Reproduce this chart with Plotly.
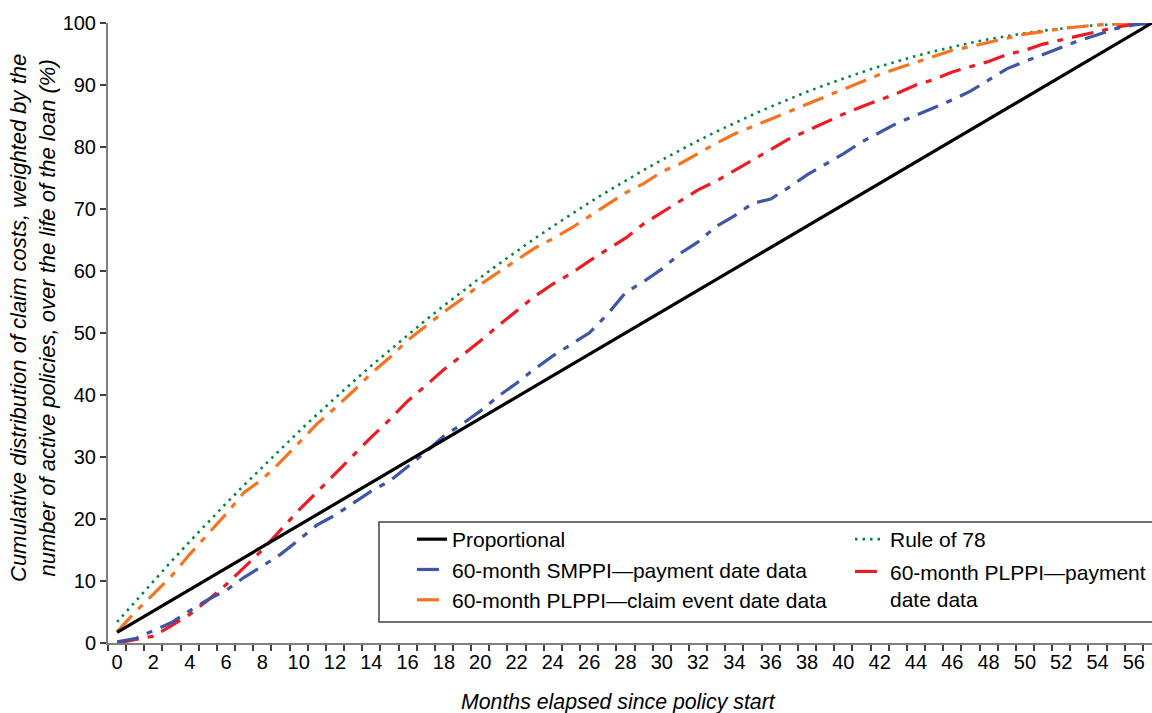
import plotly.graph_objects as go

months = list(range(58))

proportional = [1.72, 3.45, 5.17, 6.90, 8.62, 10.34, 12.07, 13.79, 15.52, 17.24,
                18.97, 20.69, 22.41, 24.14, 25.86, 27.59, 29.31, 31.03, 32.76, 34.48,
                36.21, 37.93, 39.66, 41.38, 43.10, 44.83, 46.55, 48.28, 50.00, 51.72,
                53.45, 55.17, 56.90, 58.62, 60.34, 62.07, 63.79, 65.52, 67.24, 68.97,
                70.69, 72.41, 74.14, 75.86, 77.59, 79.31, 81.03, 82.76, 84.48, 86.21,
                87.93, 89.66, 91.38, 93.10, 94.83, 96.55, 98.28, 100.0]

rule78 = [3.39, 6.72, 9.99, 13.21, 16.36, 19.46, 22.50, 25.48, 28.40, 31.27,
          34.07, 36.82, 39.51, 42.14, 44.71, 47.22, 49.68, 52.08, 54.41, 56.69,
          58.91, 61.08, 63.18, 65.23, 67.21, 69.14, 71.01, 72.82, 74.58, 76.27,
          77.91, 79.49, 81.01, 82.47, 83.87, 85.21, 86.50, 87.73, 88.90, 90.01,
          91.06, 92.05, 92.99, 93.86, 94.68, 95.44, 96.14, 96.79, 97.37, 97.90,
          98.36, 98.77, 99.12, 99.42, 99.65, 99.82, 99.94, 100.0]

smppi_payment = [0.2, 0.7, 2.0, 3.3, 5.2, 7.0, 8.5, 10.6, 12.4, 14.3,
                 16.6, 19.0, 20.6, 22.6, 24.5, 26.1, 28.4, 30.8, 33.4, 35.3,
                 37.4, 39.8, 41.9, 44.2, 46.3, 48.2, 50.0, 53.0, 56.5, 58.3,
                 60.3, 62.8, 64.7, 67.2, 68.9, 70.9, 71.6, 73.5, 75.5, 77.2,
                 78.9, 80.8, 82.3, 83.9, 85.1, 86.3, 87.6, 89.0, 90.8, 92.6,
                 93.8, 94.9, 96.1, 97.2, 98.1, 99.1, 99.7, 100.0]

plppi_claim = [1.8, 5.0, 7.9, 10.8, 14.3, 17.5, 20.8, 24.3, 26.4, 29.2,
               32.2, 35.3, 37.9, 40.6, 43.5, 46.0, 48.8, 51.1, 53.4, 55.5,
               57.8, 59.8, 61.7, 63.7, 65.2, 66.9, 68.8, 70.7, 72.6, 74.1,
               76.0, 77.3, 79.0, 80.6, 82.1, 83.3, 84.6, 85.8, 87.0, 88.2,
               89.4, 90.6, 91.7, 92.7, 93.7, 94.7, 95.6, 96.2, 96.9, 97.6,
               98.2, 98.6, 99.1, 99.4, 99.7, 99.85, 99.95, 100.0]

plppi_payment = [0.0, 0.5, 1.1, 2.8, 4.6, 6.9, 9.4, 12.2, 15.0, 18.2,
                 21.4, 24.3, 27.3, 30.3, 33.2, 36.0, 39.0, 41.5, 44.1, 46.4,
                 48.7, 51.2, 53.6, 55.9, 57.9, 59.6, 61.6, 63.5, 65.3, 67.6,
                 69.4, 71.2, 73.1, 74.5, 76.2, 77.8, 79.5, 81.3, 82.6, 84.0,
                 85.3, 86.5, 87.6, 88.7, 90.0, 90.9, 92.1, 92.9, 93.8, 94.9,
                 95.6, 96.6, 97.3, 98.0, 98.6, 99.3, 99.8, 100.0]

x_cat = [str(m) for m in months]
tick_text = [str(m) if m % 2 == 0 else "" for m in months]

FONT = "Liberation Sans, Arial, sans-serif"
DASH = "22px,9px,6px,9px"

fig = go.Figure()

fig.add_trace(go.Scatter(x=x_cat, y=rule78, mode="lines", name="Rule of 78",
                         line=dict(color="#00843D", width=2.6, dash="2.5px,5px"),
                         legend="legend2", legendgroup="g4"))
fig.add_trace(go.Scatter(x=x_cat, y=plppi_claim, mode="lines",
                         name="60-month PLPPI\u2014claim event date data",
                         line=dict(color="#F47421", width=3.2, dash=DASH),
                         legend="legend", legendgroup="g3"))
fig.add_trace(go.Scatter(x=x_cat, y=plppi_payment, mode="lines",
                         name="60-month PLPPI\u2014payment<br>date data",
                         line=dict(color="#EC1C24", width=3.2, dash=DASH),
                         legend="legend2", legendgroup="g5"))
fig.add_trace(go.Scatter(x=x_cat, y=smppi_payment, mode="lines",
                         name="60-month SMPPI\u2014payment date data",
                         line=dict(color="#3F55A5", width=3.2, dash=DASH),
                         legend="legend", legendgroup="g2"))
fig.add_trace(go.Scatter(x=x_cat, y=proportional, mode="lines", name="Proportional",
                         line=dict(color="#000000", width=3.2),
                         legend="legend", legendgroup="g1"))

W, H = 1152, 713
L, R, T, B = 108, 0, 23, 70
pw = W - L - R
ph = H - T - B

def px(xp):
    return (xp - L) / pw

def py(yp):
    return (H - B - yp) / ph

fig.add_shape(type="rect", xref="paper", yref="paper",
              x0=px(379), x1=px(1160), y0=py(622), y1=py(522),
              line=dict(color="#404040", width=1.5), fillcolor="white", layer="below")

fig.add_annotation(text="Months elapsed since policy start", xref="paper", yref="paper",
                   x=px(618), y=py(702), xanchor="center", yanchor="middle", showarrow=False,
                   font=dict(family=FONT, size=21.3, color="#000000", style="italic"))
fig.add_annotation(text="Cumulative distribution of claim costs, weighted by the<br>"
                        "number of active policies, over the life of the loan (%)",
                   xref="paper", yref="paper", x=px(33), y=py(318), textangle=-90,
                   xanchor="center", yanchor="middle", showarrow=False,
                   font=dict(family=FONT, size=22, color="#000000", style="italic"))

fig.update_layout(
    width=W, height=H,
    margin=dict(l=L, r=R, t=T, b=B, pad=0),
    paper_bgcolor="white", plot_bgcolor="white",
    font=dict(family=FONT, size=20, color="#000000"),
    showlegend=True,
    legend=dict(x=px(412), y=py(519), xanchor="left", yanchor="top",
                bgcolor="rgba(0,0,0,0)", borderwidth=0, traceorder="reversed",
                font=dict(family=FONT, size=21, color="#000000"), tracegroupgap=9.5),
    legend2=dict(x=px(850), y=py(519), xanchor="left", yanchor="top",
                 bgcolor="rgba(0,0,0,0)", borderwidth=0, valign="top",
                 font=dict(family=FONT, size=21, color="#000000"), tracegroupgap=2),
    xaxis=dict(type="category", range=[-0.5, 57.0], tickmode="array",
               tickvals=x_cat, ticktext=tick_text, tickson="boundaries", tickangle=0,
               ticks="outside", ticklen=6, tickwidth=1.5, tickcolor="#404040",
               showline=True, linecolor="#808080", linewidth=2, showgrid=False,
               zeroline=False, tickfont=dict(family=FONT, size=20)),
    yaxis=dict(range=[0, 100], tickmode="linear", tick0=0, dtick=10,
               ticks="outside", ticklen=6, tickwidth=1.5, tickcolor="#404040",
               showline=True, linecolor="#808080", linewidth=2, showgrid=False,
               zeroline=False, tickfont=dict(family=FONT, size=20)),
)

fig.write_html("out.html")
